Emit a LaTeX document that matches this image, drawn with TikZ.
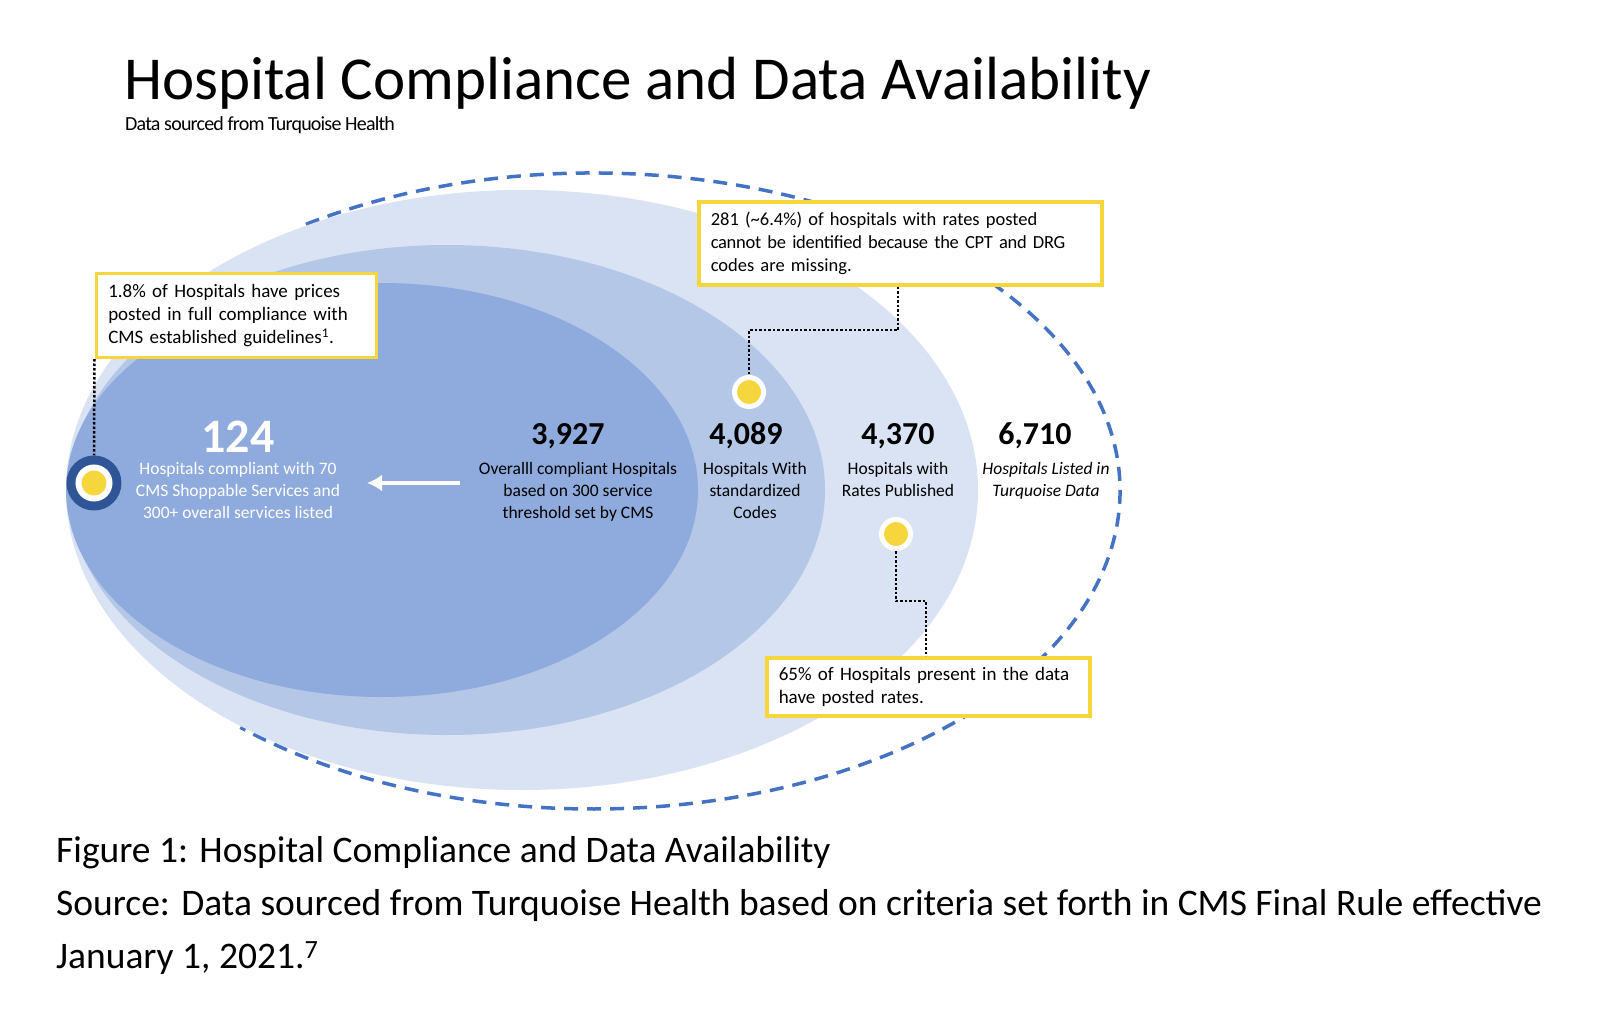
\documentclass[tikz,border=0pt]{standalone}
\usepackage{fontspec}
\setmainfont{Carlito}
\usetikzlibrary{arrows.meta,calc}
\definecolor{ellLight}{HTML}{DAE3F3}
\definecolor{ellMid}{HTML}{B4C7E7}
\definecolor{ellInner}{HTML}{8FAADC}
\definecolor{dashBlue}{HTML}{4472C4}
\definecolor{navyRing}{HTML}{2F5597}
\definecolor{ylw}{HTML}{F5D63D}
\hyphenpenalty=10000
\exhyphenpenalty=10000
\begin{document}
\begin{tikzpicture}[x=1pt,y=-1pt,
  callout/.style={draw=ylw, line width=3.5pt, fill=white, align=left, inner xsep=12pt, inner ysep=0pt, font=\fontsize{19}{23.2}\selectfont, anchor=north west},
  dotnode/.style={circle, fill=ylw, draw=white, line width=5pt, minimum size=29pt, inner sep=0pt},
  conn/.style={black, line width=2.5pt, dash pattern=on 2.5pt off 2pt},
  bignum/.style={font=\bfseries\fontsize{32}{38}\selectfont, anchor=base, inner sep=0pt},
  lbl/.style={font=\fontsize{17.5}{22}\selectfont, align=center, anchor=base, inner sep=0pt},
]
\useasboundingbox (0,0) rectangle (1600,1014);
\fill[white] (0,0) rectangle (1600,1014);

% title
\node[anchor=base west, inner sep=0pt, font=\fontsize{61}{70}\selectfont] (title) at (124,100) {Hospital Compliance and Data Availability};
\node[anchor=base west, inner sep=0pt, font=\fontsize{20}{24}\selectfont\addfontfeature{LetterSpace=-4}] (subtitle) at (125,131) {Data sourced from Turquoise Health};

% ellipses
\coordinate (dashC) at (593,491);
\draw[dashBlue, line width=3.5pt, dash pattern=on 14pt off 9pt]
  ($(dashC)+(-123:527 and 318)$) arc[start angle=-123, end angle=132, x radius=527, y radius=318];
\fill[ellLight] (522,490) ellipse [x radius=456, y radius=300];
\fill[ellMid] (447,490) ellipse [x radius=378, y radius=245];
\fill[ellInner] (382,490) ellipse [x radius=316, y radius=207];

% numbers and labels
\node[bignum, white, font=\bfseries\fontsize{48}{56}\selectfont] (n124) at (238,452) {124};
\node[lbl, white] (l124) at (238,518) {Hospitals compliant with 70\\CMS Shoppable Services and\\300+ overall services listed};

\node[bignum] (n3927) at (568,444) {3,927};
\node[lbl] (l3927) at (578,518) {Overalll compliant Hospitals\\based on 300 service\\threshold set by CMS};

\node[bignum] (n4089) at (746,444) {4,089};
\node[lbl] (l4089) at (755,518) {Hospitals With\\standardized\\Codes};

\node[bignum] (n4370) at (898,444) {4,370};
\node[lbl] (l4370) at (898,496) {Hospitals with\\Rates Published};

\node[bignum] (n6710) at (1035,444) {6,710};
\node[lbl, font=\itshape\fontsize{17.5}{22}\selectfont] (l6710) at (1046,496) {Hospitals Listed in\\Turquoise Data};

% arrow
\coordinate (arrS) at (460,483);
\coordinate (arrE) at (367,483);
\draw[white, line width=4pt, -{Latex[width=17pt,length=15pt]}] (arrS) -- (arrE);

% dots
\node[circle, fill=navyRing, minimum size=55pt, inner sep=0pt] (ringL) at (94,483) {};
\node[dotnode, minimum size=31pt, line width=6pt] (dotL) at (94,483) {};
\node[dotnode] (dotT) at (749,392) {};
\node[dotnode] (dotB) at (896,534) {};

% callouts
\node[callout, minimum width=280pt, minimum height=84pt, text width=256pt] (boxL) at (94.5,271.5)
  {1.8\% of Hospitals have prices\\posted in full compliance with\\CMS established guidelines\textsuperscript{1}.};
\node[callout, minimum width=403pt, minimum height=83pt, text width=379pt, font=\fontsize{18.5}{23.2}\selectfont] (boxT) at (697,200)
  {281 ({\char"007E}6.4\%) of hospitals with rates posted\\{\addfontfeature{LetterSpace=-1.5}cannot be identified because the CPT and DRG}\\codes are missing.};
\node[callout, minimum width=323pt, minimum height=58pt, text width=299pt] (boxB) at (765,656)
  {65\% of Hospitals present in the data\\have posted rates.};

% connectors
\draw[conn] (boxL.south west) -- (ringL.north);
\coordinate (bendT) at (898,330);
\draw[conn] (boxT.south -| bendT) -- (bendT) -| (dotT.north);
\coordinate (bendB) at (926,601);
\draw[conn] (dotB.south) |- (bendB) -- (boxB.north -| bendB);

% caption
\node[anchor=base west, inner sep=0pt, align=left, font=\fontsize{37.5}{53}\selectfont] (caption) at (56,968)
  {Figure 1: Hospital Compliance and Data Availability\\
   Source: Data sourced from Turquoise Health based on criteria set forth in CMS Final Rule effective\\
   January 1, 2021.\textsuperscript{7}};
\end{tikzpicture}
\end{document}
